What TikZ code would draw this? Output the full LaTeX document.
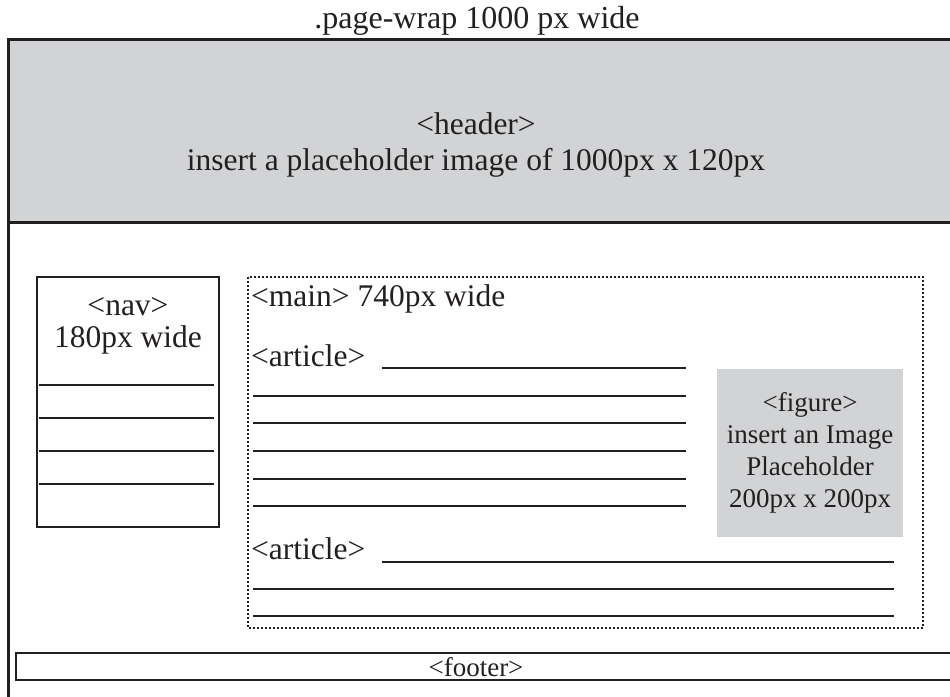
\documentclass[tikz,border=0pt]{standalone}
\usepackage{fontspec}
\setmainfont{Liberation Serif}
\definecolor{boxgray}{RGB}{209,211,212}
\definecolor{ink}{RGB}{35,31,32}
\begin{document}
\begin{tikzpicture}[x=1pt,y=-1pt,
  txt/.style={inner sep=0pt,anchor=base,text=ink,font=\fontsize{31.5}{36}\selectfont},
  titletxt/.style={txt,font=\fontsize{32}{36}\selectfont},
  smalltxt/.style={txt,font=\fontsize{27}{31}\selectfont},
  rule/.style={draw=ink,line width=1.4pt},
  frame/.style={draw=ink,line width=3pt},
  navframe/.style={draw=ink,line width=2pt},
  dottedframe/.style={draw=ink,line width=1.8pt,dash pattern=on 1.8pt off 2.2pt}]
\useasboundingbox (0,0) rectangle (950,696);
\clip (0,0) rectangle (950,696);
% page wrap
\node[titletxt] (title) at (477,28) {.page-wrap 1000 px wide};
\fill[boxgray] (8,39) rectangle (975,222);
\draw[frame] (975,39) -- (8,39) -- (8,720);
\draw[frame] (8,222) -- (975,222);
\node[txt] (header) at (476,134) {<header>};
\node[txt] (headersub) at (476,170) {insert a placeholder image of 1000px x 120px};
% nav
\draw[navframe] (37,277) rectangle (219,527);
\node[txt] (nav) at (128,315) {<nav>};
\node[txt] (navw) at (128,347) {180px wide};
\foreach \yy in {385,418,451,484} \draw[rule] (38.5,\yy) -- (214,\yy);
% main
\draw[dottedframe] (248,277) rectangle (923,628);
\node[txt,anchor=base west] (main) at (251,306) {<main> 740px wide};
\node[txt,anchor=base west] (art1) at (251,366) {<article>};
\draw[rule] (382,368) -- (686,368);
\foreach \yy in {396,423,451,479,506} \draw[rule] (253,\yy) -- (686,\yy);
\node[txt,anchor=base west] (art2) at (251,559) {<article>};
\draw[rule] (382,562) -- (894,562);
\foreach \yy in {589,616} \draw[rule] (253,\yy) -- (894,\yy);
% figure
\fill[boxgray] (717,369) rectangle (903,537);
\node[smalltxt] (fig1) at (810,411) {<figure>};
\node[smalltxt] (fig2) at (810,443) {insert an Image};
\node[smalltxt] (fig3) at (810,475) {Placeholder};
\node[smalltxt] (fig4) at (810,507) {200px x 200px};
% footer
\draw[draw=ink,line width=2.5pt] (16,653) rectangle (975,680);
\node[smalltxt] (footer) at (476,676) {<footer>};
\end{tikzpicture}
\end{document}
